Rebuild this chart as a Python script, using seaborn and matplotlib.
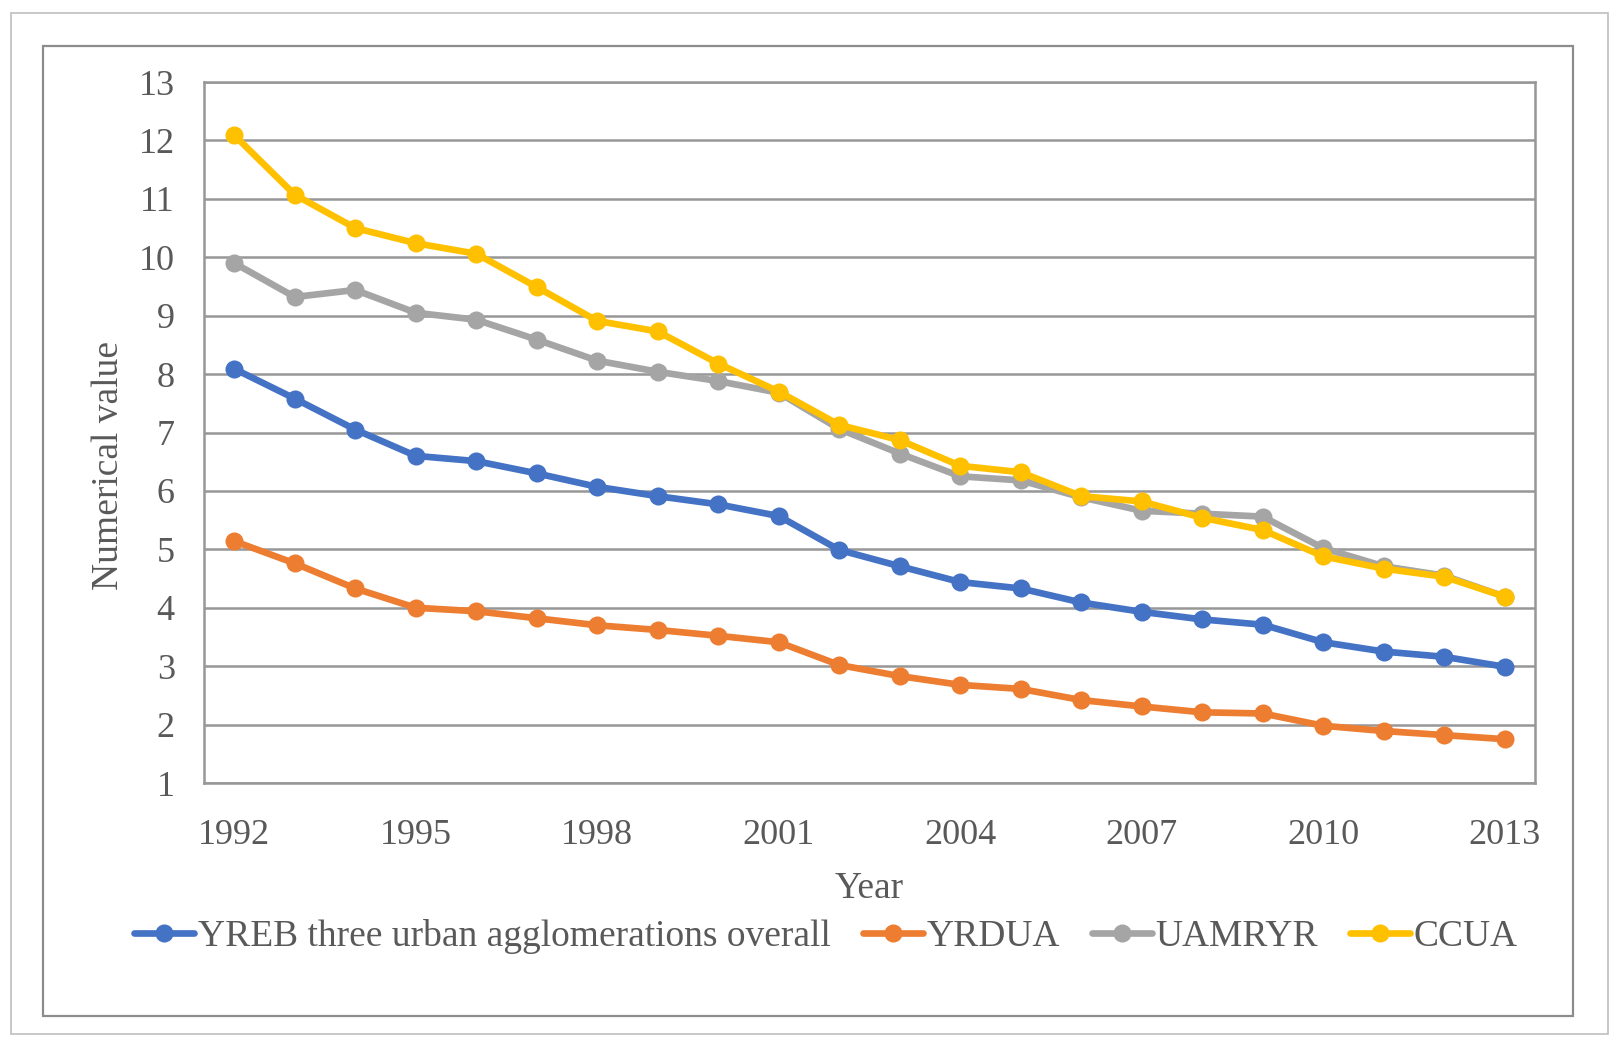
import matplotlib
matplotlib.use("Agg")
import matplotlib.pyplot as plt
import matplotlib.patches as mpatches
import seaborn as sns
import pandas as pd

years = list(range(1992, 2014))
series_names = ["YREB three urban agglomerations overall", "YRDUA", "UAMRYR", "CCUA"]
yreb = [8.09, 7.58, 7.05, 6.60, 6.51, 6.30, 6.07, 5.91, 5.77, 5.57, 4.99,
        4.71, 4.44, 4.33, 4.09, 3.93, 3.80, 3.71, 3.41, 3.25, 3.16, 2.99]
yrdua = [5.14, 4.76, 4.33, 4.00, 3.94, 3.82, 3.70, 3.62, 3.52, 3.41, 3.02,
         2.83, 2.68, 2.61, 2.42, 2.31, 2.21, 2.19, 1.98, 1.89, 1.82, 1.75]
uamryr = [9.90, 9.32, 9.44, 9.05, 8.93, 8.59, 8.23, 8.04, 7.88, 7.68, 7.06,
          6.64, 6.25, 6.18, 5.89, 5.66, 5.61, 5.56, 5.02, 4.71, 4.55, 4.19]
ccua = [12.09, 11.07, 10.50, 10.24, 10.06, 9.49, 8.91, 8.73, 8.18, 7.70, 7.13,
        6.87, 6.43, 6.32, 5.91, 5.82, 5.54, 5.33, 4.88, 4.67, 4.53, 4.19]
colors = ["#4472C4", "#ED7D31", "#A5A5A5", "#FFC000"]
xtick_labels = [1992, 1995, 1998, 2001, 2004, 2007, 2010, 2013]
yticks = list(range(1, 14))

rows = []
for name, vals in zip(series_names, [yreb, yrdua, uamryr, ccua]):
    for yr, v in zip(years, vals):
        rows.append({"Year": yr, "Value": v, "Series": name})
df = pd.DataFrame(rows)

sns.set_theme(style="white")
plt.rcParams["font.family"] = ["Liberation Serif", "DejaVu Serif"]
text_color = "#595959"

W, H = 1623, 1052
fig = plt.figure(figsize=(W / 100, H / 100), dpi=100)

# frames
fig.patches.append(mpatches.Rectangle((11 / W, 1 - 1034 / H), (1608 - 11) / W, (1034 - 13) / H,
                                      transform=fig.transFigure, fill=False, edgecolor="#BFBFBF", linewidth=1.2))
fig.patches.append(mpatches.Rectangle((43 / W, 1 - 1016 / H), (1573 - 43) / W, (1016 - 46) / H,
                                      transform=fig.transFigure, fill=False, edgecolor="#8C8C8C", linewidth=1.6))

ax = fig.add_axes([204 / W, 1 - 783 / H, (1535 - 204) / W, (783 - 82) / H])
sns.lineplot(data=df, x="Year", y="Value", hue="Series", hue_order=series_names,
             palette=colors, marker="o", markersize=13, markeredgewidth=0,
             linewidth=4.8, ax=ax, legend=True)

ax.set_xlim(1991.5, 2013.5)
ax.set_ylim(1, 13)
ax.set_yticks(yticks)
ax.set_xticks(xtick_labels)
ax.set_xticklabels([str(t) for t in xtick_labels])
ax.grid(axis="y", color="#979797", linewidth=1.8)
ax.set_axisbelow(True)
for s in ax.spines.values():
    s.set_color("#979797")
    s.set_linewidth(1.8)
ax.tick_params(axis="both", length=0, labelsize=26, labelcolor=text_color)
ax.tick_params(axis="x", pad=26)
ax.tick_params(axis="y", pad=21)
ax.set_xlabel("Year", fontsize=27, color=text_color, labelpad=14)
ax.set_ylabel("Numerical value", fontsize=27, color=text_color)
ax.yaxis.set_label_coords(-0.0586, 0.4535)

handles, labels = ax.get_legend_handles_labels()
ax.legend_.remove()
fig.legend(handles, labels, loc="center", bbox_to_anchor=(826 / W, 1 - 937 / H),
           ncol=4, frameon=False, fontsize=27, handlelength=1.6, handletextpad=0.1,
           columnspacing=0.85, labelcolor=text_color)

fig.savefig("out.png", dpi=100, facecolor="white")
